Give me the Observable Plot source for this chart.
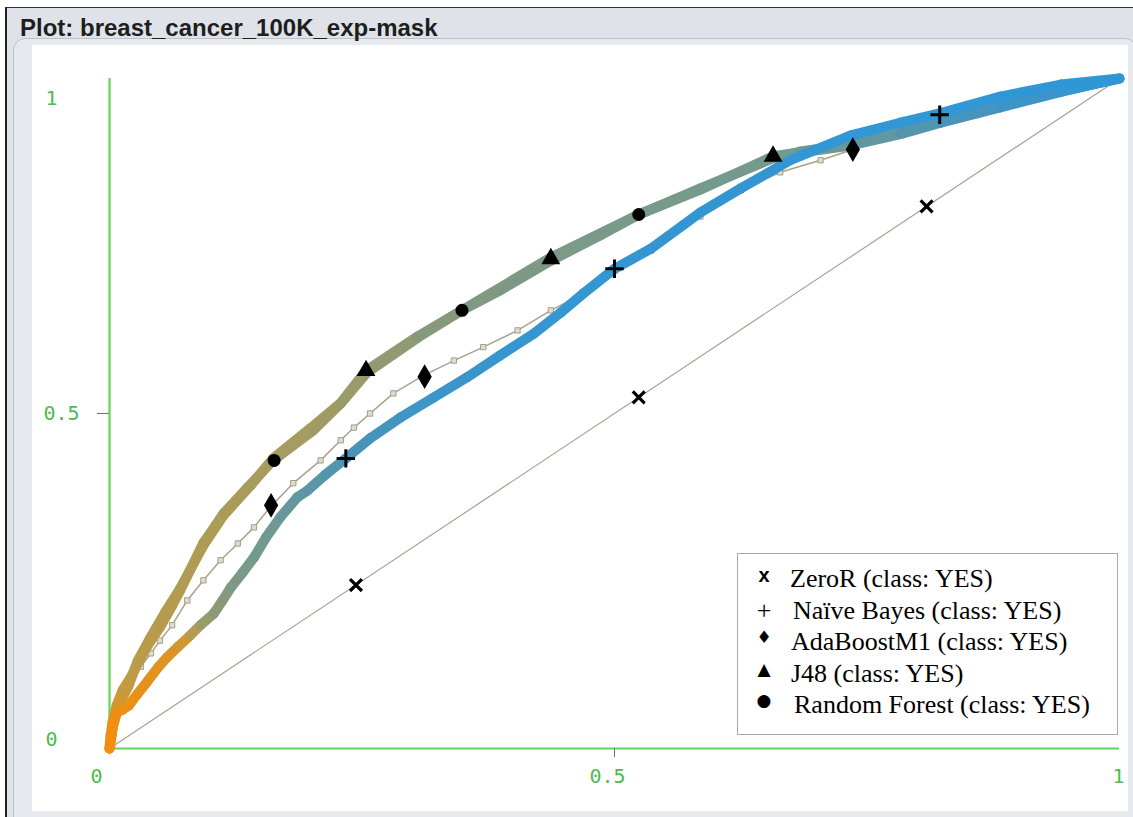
<!DOCTYPE html>
<html>
<head>
<meta charset="utf-8">
<script src="https://cdn.jsdelivr.net/npm/d3@7"></script>
<script src="https://cdn.jsdelivr.net/npm/@observablehq/plot@0.6"></script>
<style>
  html, body { margin: 0; padding: 0; }
  body { width: 1133px; height: 817px; position: relative; overflow: hidden; background: #ffffff; }
  .abs { position: absolute; }
  #title { left: 20px; top: 14px; font: bold 24px "Liberation Sans", Arial, sans-serif; color: #1e1e1e; white-space: nowrap; }
  #legend { left: 737px; top: 553px; width: 379px; height: 180px; border: 1px solid #a9a9a9; background: #fff; box-sizing: content-box; }
  .row { position: absolute; left: 0; height: 31px; line-height: 31px; white-space: nowrap; }
  .sym { position: absolute; left: 14px; width: 24px; text-align: center; color: #000; }
  .lab { position: absolute; left: 54px; font: 26px "Liberation Serif", "Times New Roman", serif; color: #000; }
  #chart { left: 0; top: 0; }
</style>
</head>
<body>
<!-- window frame -->
<div class="abs" style="left:0;top:0;width:1133px;height:7px;background:#fff"></div>
<div class="abs" style="left:5px;top:7px;width:1128px;height:1px;background:#333"></div>
<div class="abs" style="left:5px;top:7px;width:2px;height:810px;background:#222"></div>
<div class="abs" style="left:7px;top:8px;width:1126px;height:809px;background:#dfe3e9"></div>
<div class="abs" style="left:13px;top:38px;width:1122px;height:781px;background:#e6e9ee;border:1px solid #bcc2ca;border-radius:12px 12px 0 0"></div>
<div class="abs" style="left:32px;top:45px;width:1096px;height:766px;background:#ffffff"></div>
<div id="title" class="abs">Plot: breast_cancer_100K_exp-mask</div>
<div id="chart" class="abs"></div>
<div id="legend" class="abs"></div>
<script>
// ---------------- data ----------------
const xTicks = [0, 0.5, 1];
const yTicks = [0, 0.5, 1];
const markedTicks = [0.5];

const seriesNames = ["ZeroR (class: YES)", "Naïve Bayes (class: YES)", "AdaBoostM1 (class: YES)", "J48 (class: YES)", "Random Forest (class: YES)"];
const legendGlyphs = ["x", "+", "♦", "▲", "●"];

// ZeroR: diagonal
const zeroRFPR = [0, 1];
const zeroRTPR = [0, 1];
const zeroRMarkFPR = [0.244, 0.524, 0.809];
const zeroRMarkTPR = [0.244, 0.524, 0.809];

// Naive Bayes
const nbFPR = [0, 0.002, 0.004, 0.007, 0.013, 0.019, 0.028, 0.038, 0.048, 0.057, 0.068, 0.080, 0.090, 0.103, 0.112, 0.120, 0.132, 0.143, 0.155, 0.169, 0.186, 0.196, 0.214, 0.234, 0.258, 0.288, 0.321, 0.354, 0.387, 0.420, 0.447, 0.469, 0.500, 0.536, 0.585, 0.625, 0.674, 0.734, 0.783, 0.822, 0.882, 0.942, 1];
const nbTPR = [0, 0.019, 0.039, 0.054, 0.058, 0.064, 0.082, 0.101, 0.121, 0.136, 0.152, 0.169, 0.184, 0.201, 0.221, 0.240, 0.263, 0.285, 0.315, 0.345, 0.375, 0.385, 0.409, 0.433, 0.463, 0.494, 0.524, 0.554, 0.587, 0.619, 0.651, 0.679, 0.716, 0.746, 0.800, 0.836, 0.878, 0.915, 0.934, 0.948, 0.973, 0.991, 1];
const nbThreshold = [1, 0.99, 0.98, 0.97, 0.96, 0.95, 0.94, 0.93, 0.92, 0.91, 0.88, 0.80, 0.62, 0.55, 0.50, 0.46, 0.42, 0.39, 0.36, 0.33, 0.30, 0.28, 0.25, 0.22, 0.18, 0.14, 0.10, 0.08, 0.06, 0.05, 0.04, 0.04, 0.03, 0.03, 0.03, 0.03, 0.03, 0.02, 0.02, 0.02, 0.01, 0.01, 0];
const nbMarkFPR = [0.234, 0.500, 0.822];
const nbMarkTPR = [0.433, 0.716, 0.946];

// AdaBoostM1
const adaFPR = [0, 0.002, 0.005, 0.009, 0.015, 0.021, 0.031, 0.041, 0.050, 0.062, 0.077, 0.093, 0.110, 0.127, 0.143, 0.159, 0.182, 0.209, 0.229, 0.242, 0.258, 0.281, 0.311, 0.341, 0.370, 0.404, 0.437, 0.469, 0.500, 0.536, 0.585, 0.625, 0.664, 0.704, 0.736, 0.783, 0.833, 0.882, 0.942, 1];
const adaTPR = [0, 0.019, 0.045, 0.064, 0.087, 0.101, 0.122, 0.142, 0.161, 0.184, 0.221, 0.251, 0.281, 0.306, 0.330, 0.360, 0.396, 0.430, 0.460, 0.479, 0.500, 0.530, 0.557, 0.579, 0.599, 0.624, 0.654, 0.679, 0.713, 0.743, 0.794, 0.833, 0.860, 0.878, 0.894, 0.916, 0.941, 0.964, 0.986, 1];
const adaMarkFPR = [0.160, 0.312, 0.736];
const adaMarkTPR = [0.363, 0.555, 0.894];

// J48
const j48FPR = [0, 0.003, 0.009, 0.019, 0.028, 0.040, 0.055, 0.070, 0.093, 0.113, 0.140, 0.162, 0.199, 0.229, 0.254, 0.305, 0.349, 0.437, 0.524, 0.585, 0.657, 0.734, 0.783, 0.823, 0.882, 0.942, 1];
const j48TPR = [0, 0.030, 0.064, 0.094, 0.131, 0.164, 0.203, 0.239, 0.303, 0.348, 0.393, 0.433, 0.478, 0.516, 0.564, 0.615, 0.654, 0.733, 0.797, 0.834, 0.884, 0.900, 0.917, 0.934, 0.957, 0.980, 1];
const j48Threshold = [1, 0.95, 0.85, 0.78, 0.74, 0.72, 0.71, 0.70, 0.69, 0.68, 0.67, 0.66, 0.64, 0.61, 0.58, 0.52, 0.48, 0.43, 0.41, 0.40, 0.37, 0.33, 0.28, 0.22, 0.15, 0.08, 0];
const j48MarkFPR = [0.254, 0.437, 0.657];
const j48MarkTPR = [0.564, 0.731, 0.884];

// Random Forest
const rfFPR = [0, 0.001, 0.003, 0.007, 0.013, 0.021, 0.028, 0.038, 0.050, 0.062, 0.070, 0.082, 0.093, 0.105, 0.113, 0.137, 0.162, 0.202, 0.229, 0.255, 0.305, 0.349, 0.387, 0.437, 0.486, 0.524, 0.585, 0.657, 0.684, 0.734, 0.783, 0.823, 0.882, 0.942, 1];
const rfTPR = [0, 0.019, 0.039, 0.064, 0.087, 0.106, 0.127, 0.154, 0.181, 0.213, 0.236, 0.273, 0.307, 0.333, 0.351, 0.390, 0.430, 0.475, 0.515, 0.561, 0.613, 0.654, 0.684, 0.728, 0.766, 0.797, 0.836, 0.881, 0.891, 0.902, 0.919, 0.936, 0.959, 0.981, 1];
const rfThreshold = [1, 0.96, 0.92, 0.86, 0.80, 0.76, 0.74, 0.73, 0.72, 0.71, 0.70, 0.69, 0.68, 0.67, 0.66, 0.65, 0.64, 0.62, 0.60, 0.57, 0.52, 0.48, 0.45, 0.43, 0.42, 0.41, 0.40, 0.37, 0.35, 0.32, 0.27, 0.21, 0.14, 0.07, 0];
const rfMarkFPR = [0.163, 0.349, 0.524];
const rfMarkTPR = [0.430, 0.654, 0.797];

// ---------------- build tables ----------------
const pts = (xs, ys) => xs.map((x, i) => ({x, y: ys[i]}));
const segs = (xs, ys, ts) => xs.slice(1).map((x2, i) => ({x1: xs[i], y1: ys[i], x2, y2: ys[i + 1], t: (ts[i] + ts[i + 1]) / 2}));

const green = "#5fd65f";
const labelGreen = "#4dbb4d";
const tickFont = {fontFamily: "DejaVu Sans Mono, monospace", fontSize: 20, fill: labelGreen};
const fmt = d => String(d);

const chart = Plot.plot({
  width: 1133,
  height: 817,
  marginLeft: 109,
  marginRight: 14,
  marginTop: 78,
  marginBottom: 69,
  style: {background: "transparent", overflow: "visible"},
  x: {domain: [0, 1], axis: null},
  y: {domain: [0, 1], axis: null},
  color: {
    type: "linear",
    domain: [0, 0.2, 0.35, 0.5, 0.65, 0.8, 1],
    range: ["#2f97d8", "#4a93b8", "#6f9a92", "#87997c", "#a89c5c", "#c89a3c", "#f58c0c"]
  },
  marks: [
    // axes lines
    Plot.ruleY([0], {stroke: green, strokeWidth: 2.2}),
    Plot.ruleX([0], {stroke: green, strokeWidth: 2.2}),
    // ticks
    Plot.axisX(markedTicks, {tickSize: 9, stroke: "#707070", fill: "none"}),
    Plot.axisY(markedTicks, {tickSize: 12, stroke: "#707070", fill: "none"}),
    // x tick labels
    Plot.axisX([xTicks[0]], {tickSize: 0, tickPadding: 20, dx: -13, ...tickFont, tickFormat: fmt}),
    Plot.axisX([xTicks[1]], {tickSize: 0, tickPadding: 20, dx: -7, ...tickFont, tickFormat: fmt}),
    Plot.axisX([xTicks[2]], {tickSize: 0, tickPadding: 20, dx: -1, ...tickFont, tickFormat: fmt}),
    // y tick labels
    Plot.axisY([yTicks[0]], {tickSize: 0, tickPadding: 0, textAnchor: "start", dx: -64, dy: -9, ...tickFont, tickFormat: fmt}),
    Plot.axisY([yTicks[1]], {tickSize: 0, tickPadding: 0, textAnchor: "start", dx: -66, dy: 0, ...tickFont, tickFormat: fmt}),
    Plot.axisY([yTicks[2]], {tickSize: 0, tickPadding: 0, textAnchor: "start", dx: -64, dy: 20, ...tickFont, tickFormat: fmt}),
    // ZeroR
    Plot.line(pts(zeroRFPR, zeroRTPR), {x: "x", y: "y", stroke: "#a8a290", strokeWidth: 1.2}),
    // AdaBoostM1 thin line with small squares
    Plot.line(pts(adaFPR, adaTPR), {x: "x", y: "y", stroke: "#a8a18b", strokeWidth: 1.5}),
    Plot.dot(pts(adaFPR, adaTPR), {x: "x", y: "y", symbol: "square", r: 3, stroke: "#a49f88", fill: "#dedbcf", strokeWidth: 1}),
    // J48 band
    Plot.link(segs(j48FPR, j48TPR, j48Threshold), {x1: "x1", y1: "y1", x2: "x2", y2: "y2", stroke: "t", strokeWidth: 10, strokeLinecap: "round"}),
    // Random Forest band
    Plot.link(segs(rfFPR, rfTPR, rfThreshold), {x1: "x1", y1: "y1", x2: "x2", y2: "y2", stroke: "t", strokeWidth: 10, strokeLinecap: "round"}),
    // Naive Bayes band
    Plot.link(segs(nbFPR, nbTPR, nbThreshold), {x1: "x1", y1: "y1", x2: "x2", y2: "y2", stroke: "t", strokeWidth: 10, strokeLinecap: "round"}),
    // markers
    Plot.dot(pts(zeroRMarkFPR, zeroRMarkTPR), {x: "x", y: "y", symbol: "times", r: 5.5, stroke: "#000", strokeWidth: 3.2}),
    Plot.dot(pts(nbMarkFPR, nbMarkTPR), {x: "x", y: "y", symbol: "plus", r: 6, stroke: "#000", strokeWidth: 3}),
    Plot.dot(pts(adaMarkFPR, adaMarkTPR), {x: "x", y: "y", symbol: "diamond", r: 7.5, fill: "#000", stroke: "none"}),
    Plot.dot(pts(j48MarkFPR, j48MarkTPR), {x: "x", y: "y", symbol: "triangle", r: 7, fill: "#000", stroke: "none"}),
    Plot.dot(pts(rfMarkFPR, rfMarkTPR), {x: "x", y: "y", symbol: "circle", r: 6.5, fill: "#000", stroke: "none"})
  ]
});
document.getElementById("chart").appendChild(chart);

// legend
const legend = document.getElementById("legend");
const glyphStyles = [
  "font: bold 20px 'Liberation Sans', Arial, sans-serif;",
  "font: 26px 'Liberation Serif', serif;",
  "font: 17px 'DejaVu Sans', sans-serif;",
  "font: 17px 'DejaVu Sans', sans-serif;",
  "font: 17px 'DejaVu Sans', sans-serif;"
];
const labelOffsets = [52, 55, 53, 53, 56];
seriesNames.forEach((name, i) => {
  const row = document.createElement("div");
  row.className = "row";
  row.style.top = (10 + i * 31.5) + "px";
  row.style.width = "379px";
  const s = document.createElement("span");
  s.className = "sym";
  s.setAttribute("style", glyphStyles[i]);
  s.textContent = legendGlyphs[i];
  const l = document.createElement("span");
  l.className = "lab";
  l.style.left = labelOffsets[i] + "px";
  l.textContent = name;
  row.appendChild(s);
  row.appendChild(l);
  legend.appendChild(row);
});
</script>
</body>
</html>
